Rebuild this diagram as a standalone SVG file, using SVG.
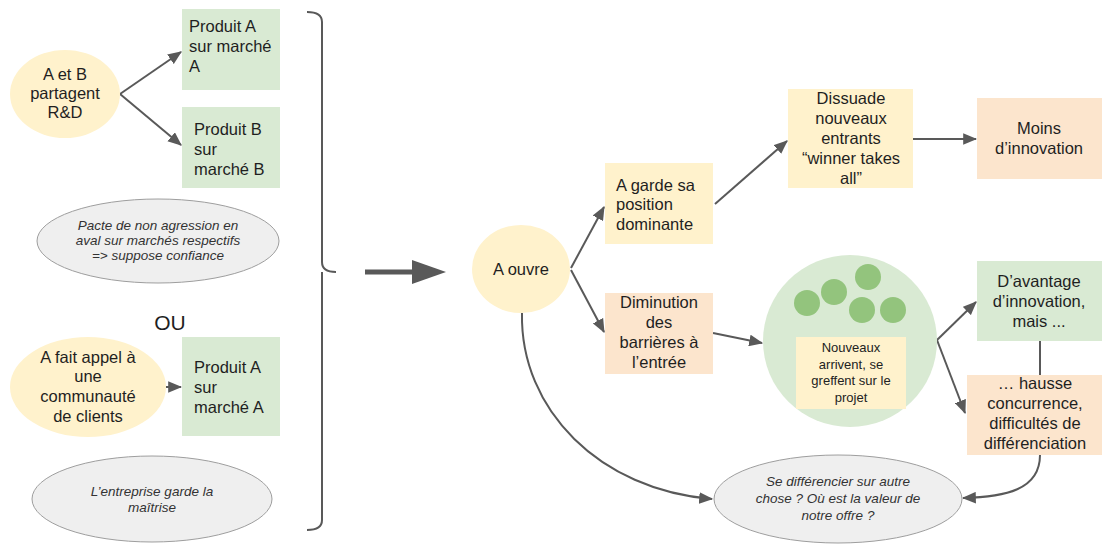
<svg xmlns="http://www.w3.org/2000/svg" width="1105" height="545" viewBox="0 0 1105 545">
<style>
.t{font-family:"Liberation Sans",Arial,sans-serif;font-size:16.5px;fill:#1f1f1f}
.c{text-anchor:middle}
.i{font-family:"Liberation Sans",Arial,sans-serif;font-size:13.5px;font-style:italic;fill:#333;text-anchor:middle}
.s{font-family:"Liberation Sans",Arial,sans-serif;font-size:13px;fill:#222;text-anchor:middle}
.y{fill:#fff2cc}
.g{fill:#d9ead3}
.o{fill:#fce5cd}
.gr{fill:#efefef;stroke:#9e9e9e;stroke-width:1}
.dot{fill:#93c47d}
.e{fill:none;stroke:#595959;stroke-width:2}
</style>
<defs>
<marker id="ah" viewBox="0 0 12 10" refX="11" refY="5" markerWidth="7" markerHeight="6" orient="auto" markerUnits="strokeWidth">
<path d="M0,0 L12,5 L0,10 z" fill="#595959"/>
</marker>
</defs>
<rect width="1105" height="545" fill="#ffffff"/>

<g id="connectors">
<path class="e" d="M120,94 L181,52" marker-end="url(#ah)"/>
<path class="e" d="M120,94 L181,145" marker-end="url(#ah)"/>
<path class="e" d="M166,387 L181,387" marker-end="url(#ah)"/>
<path class="e" d="M307,12 Q322,12 322,22 V262 Q322,272 336,272 M322,272 Q322,272 322,282 V520 Q322,530 307,530"/>
<line x1="365" y1="272" x2="415" y2="272" stroke="#595959" stroke-width="5"/>
<polygon points="412,260 446,272 412,284" fill="#595959"/>
<path class="e" d="M571,268 L604,207" marker-end="url(#ah)"/>
<path class="e" d="M571,270 L604,332" marker-end="url(#ah)"/>
<path class="e" d="M715,204 L787,141" marker-end="url(#ah)"/>
<path class="e" d="M913,139 L976,139" marker-end="url(#ah)"/>
<path class="e" d="M713,333 L762,343" marker-end="url(#ah)"/>
<path class="e" d="M937,340 L976,302" marker-end="url(#ah)"/>
<path class="e" d="M937,340 L965,413" marker-end="url(#ah)"/>
<path class="e" d="M1040,341 V375"/>
<path class="e" d="M522,313 C520,410 600,490 712,499" marker-end="url(#ah)"/>
<path class="e" d="M1040,455 C1040,490 1005,497 963,498" marker-end="url(#ah)"/>
</g>

<g id="n-aetb">
<ellipse class="y" cx="65" cy="94" rx="55" ry="44"/>
<text class="t c" x="65" y="80">A et B</text>
<text class="t c" x="65" y="99">partagent</text>
<text class="t c" x="65" y="118">R&amp;D</text>
</g>
<g id="n-prodA1">
<rect class="g" x="182" y="9" width="98" height="81"/>
<text class="t" x="189" y="32">Produit A</text>
<text class="t" x="189" y="52">sur marché</text>
<text class="t" x="189" y="72">A</text>
</g>
<g id="n-prodB">
<rect class="g" x="182" y="107" width="98" height="81"/>
<text class="t" x="194" y="135">Produit B</text>
<text class="t" x="194" y="155">sur</text>
<text class="t" x="194" y="175">marché B</text>
</g>
<g id="n-pacte">
<ellipse class="gr" cx="158" cy="241" rx="121" ry="42"/>
<text class="i" x="158" y="230">Pacte de non agression en</text>
<text class="i" x="158" y="245">aval sur marchés respectifs</text>
<text class="i" x="158" y="260">=&gt; suppose confiance</text>
</g>
<g id="n-ou">
<text class="t c" x="170" y="330" style="font-size:21px">OU</text>
</g>
<g id="n-commu">
<ellipse class="y" cx="88" cy="387" rx="78" ry="50"/>
<text class="t c" x="88" y="363">A fait appel à</text>
<text class="t c" x="88" y="382">une</text>
<text class="t c" x="88" y="402">communauté</text>
<text class="t c" x="88" y="422">de clients</text>
</g>
<g id="n-prodA2">
<rect class="g" x="182" y="337" width="98" height="99"/>
<text class="t" x="194" y="373">Produit A</text>
<text class="t" x="194" y="393">sur</text>
<text class="t" x="194" y="413">marché A</text>
</g>
<g id="n-maitrise">
<ellipse class="gr" cx="152" cy="499" rx="120" ry="43"/>
<text class="i" x="152" y="496">L’entreprise garde la</text>
<text class="i" x="152" y="512">maîtrise</text>
</g>

<g id="n-ouvre">
<ellipse class="y" cx="521" cy="269" rx="49" ry="44"/>
<text class="t c" x="521" y="275">A ouvre</text>
</g>
<g id="n-garde">
<rect class="y" x="605" y="163" width="108" height="81"/>
<text class="t" x="616" y="191">A garde sa</text>
<text class="t" x="616" y="210">position</text>
<text class="t" x="616" y="230">dominante</text>
</g>
<g id="n-dimin">
<rect class="o" x="605" y="293" width="108" height="81"/>
<text class="t c" x="659" y="308">Diminution</text>
<text class="t c" x="659" y="328">des</text>
<text class="t c" x="659" y="348">barrières à</text>
<text class="t c" x="659" y="368">l’entrée</text>
</g>
<g id="n-dissuade">
<rect class="y" x="788" y="89" width="125" height="99"/>
<text class="t c" x="851" y="104">Dissuade</text>
<text class="t c" x="851" y="124">nouveaux</text>
<text class="t c" x="851" y="144">entrants</text>
<text class="t c" x="851" y="164">“winner takes</text>
<text class="t c" x="851" y="184">all”</text>
</g>
<g id="n-moins">
<rect class="o" x="977" y="98" width="125" height="81"/>
<text class="t c" x="1039" y="134">Moins</text>
<text class="t c" x="1039" y="154">d’innovation</text>
</g>
<g id="n-cercle">
<ellipse class="g" cx="850" cy="341" rx="87" ry="86"/>
<circle class="dot" cx="807" cy="303" r="13"/>
<circle class="dot" cx="834" cy="292" r="13"/>
<circle class="dot" cx="868" cy="277" r="13"/>
<circle class="dot" cx="862" cy="310" r="13"/>
<circle class="dot" cx="893" cy="310" r="13"/>
<rect class="y" x="796" y="337" width="110" height="72"/>
<text class="s" x="851" y="352">Nouveaux</text>
<text class="s" x="851" y="369">arrivent, se</text>
<text class="s" x="851" y="385">greffent sur le</text>
<text class="s" x="851" y="402">projet</text>
</g>
<g id="n-davantage">
<rect class="g" x="977" y="261" width="125" height="80"/>
<text class="t c" x="1039" y="287">D’avantage</text>
<text class="t c" x="1039" y="307">d’innovation,</text>
<text class="t c" x="1039" y="327">mais ...</text>
</g>
<g id="n-hausse">
<rect class="o" x="967" y="375" width="135" height="80"/>
<text class="t c" x="1035" y="389">… hausse</text>
<text class="t c" x="1035" y="409">concurrence,</text>
<text class="t c" x="1035" y="429">difficultés de</text>
<text class="t c" x="1035" y="449">différenciation</text>
</g>
<g id="n-differ">
<ellipse class="gr" cx="838" cy="499" rx="124" ry="44"/>
<text class="i" x="838" y="486">Se différencier sur autre</text>
<text class="i" x="838" y="503">chose ? Où est la valeur de</text>
<text class="i" x="838" y="520">notre offre ?</text>
</g>
</svg>
